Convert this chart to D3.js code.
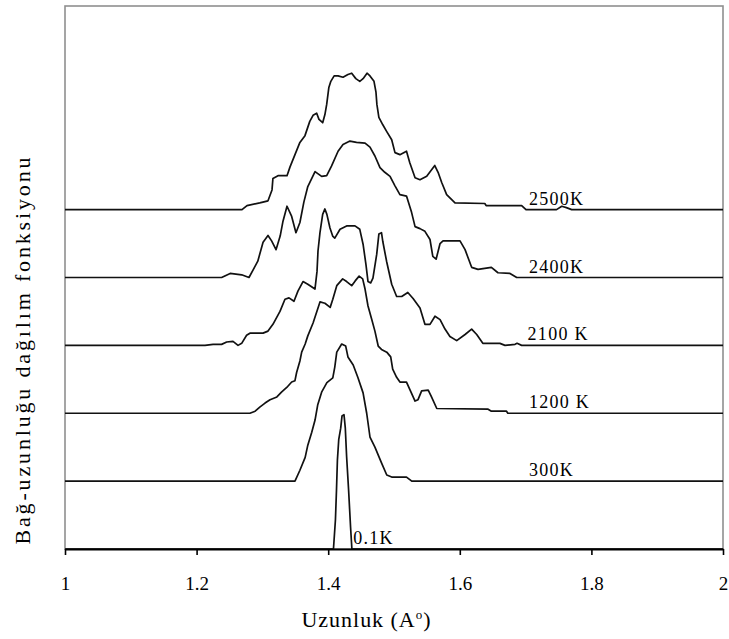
<!DOCTYPE html>
<html>
<head>
<meta charset="utf-8">
<script src="https://cdn.jsdelivr.net/npm/d3@7/dist/d3.min.js"></script>
<style>
  html, body { margin: 0; padding: 0; background: #fff; }
  svg { display: block; }
</style>
</head>
<body>
<svg id="chart" width="729" height="639"></svg>
<script>
// ---------------- DATA ----------------
const xTicks = [1, 1.2, 1.4, 1.6, 1.8, 2];
const seriesNames = ["0.1K", "300K", "1200 K", "2100 K", "2400K", "2500K"];
const offsets = [0, 1, 2, 3, 4, 5];
const labelX = [1.438, 1.705, 1.705, 1.703, 1.705, 1.705];

const s01K = [[1,0],[1.408,0],[1.411,0.43],[1.4126,0.87],[1.414,1.31],[1.416,1.61],[1.419,1.78],
  [1.421,1.96],[1.424,1.98],[1.426,1.78],[1.428,1.36],[1.431,0.87],[1.434,0.32],[1.436,0],[2,0]];

const s300K = [[1,0],[1.3495,0],[1.357,0.16],[1.365,0.35],[1.369,0.53],[1.375,0.72],[1.380,0.90],
  [1.384,1.12],[1.390,1.31],[1.398,1.45],[1.407,1.52],[1.410,1.68],[1.413,1.90],[1.4205,2.02],
  [1.4266,1.99],[1.430,1.83],[1.438,1.71],[1.445,1.53],[1.453,1.30],[1.4585,1.00],[1.4635,0.65],
  [1.471,0.50],[1.481,0.27],[1.489,0.09],[1.4965,0.06],[1.519,0.06],[1.527,0],[2,0]];

const s1200K = [[1,0],[1.281,0],[1.289,0.03],[1.296,0.09],[1.304,0.15],[1.3116,0.20],[1.322,0.24],
  [1.329,0.31],[1.337,0.38],[1.3445,0.46],[1.3495,0.48],[1.352,0.60],[1.357,0.77],[1.3597,0.90],
  [1.365,1.02],[1.369,1.14],[1.377,1.33],[1.3875,1.64],[1.395,1.62],[1.403,1.56],[1.407,1.68],
  [1.413,1.88],[1.422,1.98],[1.428,1.94],[1.4357,1.88],[1.441,1.95],[1.447,2.02],[1.4524,1.98],
  [1.456,1.83],[1.4605,1.58],[1.466,1.39],[1.471,1.21],[1.476,0.99],[1.481,0.94],[1.489,0.90],
  [1.495,0.83],[1.498,0.65],[1.504,0.53],[1.509,0.46],[1.519,0.46],[1.525,0.33],[1.532,0.18],
  [1.5365,0.20],[1.542,0.33],[1.552,0.34],[1.557,0.24],[1.565,0.07],[1.643,0.06],[1.648,0.03],
  [1.671,0.03],[1.673,0],[2,0]];

const s2100K = [[1,0],[1.2128,0],[1.225,0.015],[1.238,0.015],[1.2457,0.05],[1.2553,0.06],[1.263,0],
  [1.2685,0.03],[1.276,0.15],[1.281,0.18],[1.301,0.18],[1.3085,0.21],[1.316,0.31],[1.3267,0.50],
  [1.3343,0.68],[1.3404,0.70],[1.348,0.65],[1.354,0.80],[1.3617,0.94],[1.369,0.90],[1.3799,0.83],
  [1.383,1.09],[1.3845,1.39],[1.3875,1.66],[1.3916,1.93],[1.395,2.01],[1.398,1.93],[1.4027,1.73],
  [1.4068,1.61],[1.410,1.58],[1.418,1.71],[1.428,1.76],[1.4407,1.76],[1.448,1.71],[1.453,1.49],
  [1.4574,1.19],[1.4605,0.94],[1.4646,0.92],[1.468,0.99],[1.4737,1.34],[1.477,1.64],[1.481,1.66],
  [1.483,1.53],[1.4887,1.24],[1.4965,0.90],[1.504,0.72],[1.5117,0.72],[1.521,0.78],[1.529,0.69],
  [1.5395,0.55],[1.547,0.31],[1.5547,0.31],[1.5623,0.43],[1.570,0.38],[1.5775,0.24],[1.585,0.13],
  [1.5953,0.07],[1.608,0.16],[1.618,0.24],[1.6257,0.16],[1.635,0.03],[1.661,0.03],[1.6687,0],
  [1.684,0.015],[1.687,0.03],[1.694,0],[2,0]];

const s2400K = [[1,0],[1.238,0],[1.251,0.06],[1.2685,0.04],[1.2796,0],[1.2857,0.11],[1.293,0.24],
  [1.301,0.52],[1.3085,0.62],[1.314,0.54],[1.3207,0.41],[1.327,0.61],[1.3313,0.83],[1.3374,1.05],
  [1.3445,0.90],[1.351,0.66],[1.357,0.81],[1.363,1.11],[1.369,1.34],[1.380,1.56],[1.390,1.49],
  [1.3977,1.50],[1.405,1.64],[1.415,1.86],[1.4225,1.96],[1.433,2.01],[1.443,1.99],[1.456,1.98],
  [1.4635,1.92],[1.471,1.79],[1.4787,1.62],[1.486,1.55],[1.494,1.49],[1.5015,1.35],[1.509,1.22],
  [1.519,1.20],[1.5267,0.96],[1.532,0.75],[1.5395,0.72],[1.547,0.68],[1.5547,0.56],[1.559,0.31],
  [1.564,0.27],[1.570,0.50],[1.5745,0.54],[1.6003,0.54],[1.608,0.41],[1.618,0.15],[1.6277,0.12],
  [1.648,0.15],[1.658,0.07],[1.6763,0.06],[1.6865,0],[2,0]];

const s2500K = [[1,0],[1.269,0],[1.2766,0.06],[1.296,0.10],[1.3085,0.13],[1.3146,0.29],[1.316,0.46],
  [1.3237,0.50],[1.3374,0.50],[1.342,0.63],[1.3495,0.81],[1.357,0.99],[1.3647,1.09],[1.372,1.30],
  [1.377,1.39],[1.3825,1.42],[1.386,1.33],[1.3916,1.28],[1.395,1.40],[1.3977,1.55],[1.401,1.80],
  [1.404,1.89],[1.409,1.97],[1.415,1.97],[1.4225,1.95],[1.430,1.99],[1.4357,2.01],[1.442,1.93],
  [1.448,1.89],[1.453,1.93],[1.459,2.01],[1.4635,1.97],[1.4696,1.89],[1.4726,1.73],[1.474,1.55],
  [1.477,1.36],[1.483,1.25],[1.489,1.15],[1.4965,1.03],[1.5015,0.84],[1.509,0.81],[1.519,0.86],
  [1.524,0.69],[1.532,0.47],[1.5395,0.44],[1.5497,0.49],[1.562,0.65],[1.567,0.55],[1.5725,0.40],
  [1.580,0.22],[1.5927,0.10],[1.638,0.09],[1.640,0.06],[1.694,0.06],[1.7006,0],[1.747,0],
  [1.755,0.05],[1.762,0.03],[1.770,0],[2,0]];

const seriesData = [s01K, s300K, s1200K, s2100K, s2400K, s2500K];

// ---------------- CHART ----------------
const svg = d3.select("#chart");
const plotL = 65, plotR = 723, plotT = 6, plotB = 549;

const x = d3.scaleLinear().domain([1, 2]).range([plotL, plotR]);
const y = d3.scaleLinear().domain([0, 8]).range([plotB, plotT]);

const serif = "'Liberation Serif', 'Times New Roman', serif";

// frame
svg.append("rect")
  .attr("x", plotL).attr("y", plotT)
  .attr("width", plotR - plotL).attr("height", plotB - plotT)
  .attr("fill", "none").attr("stroke", "#8f8f8f").attr("stroke-width", 1.6);

// curves
const line = d3.line().x(d => x(d[0])).y(d => y(d[1]));
seriesData.forEach((s, i) => {
  const off = offsets[i];
  svg.append("path")
    .datum(s.map(p => [p[0], p[1] + off]))
    .attr("d", line)
    .attr("fill", "none")
    .attr("stroke", "#111")
    .attr("stroke-width", 1.7)
    .attr("stroke-linejoin", "round");
});

// x axis
const xAxis = d3.axisBottom(x)
  .tickValues(xTicks)
  .tickSize(6)
  .tickSizeOuter(0)
  .tickPadding(22)
  .tickFormat(d3.format("~g"));
const gx = svg.append("g").attr("transform", `translate(0,${plotB})`).call(xAxis);
gx.select(".domain").attr("stroke", "#000").attr("stroke-width", 1.8);
gx.selectAll(".tick line").attr("stroke", "#000").attr("stroke-width", 1.6);
gx.selectAll(".tick text")
  .attr("font-family", serif).attr("font-size", 19).attr("fill", "#000");

// series labels
seriesNames.forEach((name, i) => {
  svg.append("text")
    .attr("x", x(labelX[i]))
    .attr("y", y(offsets[i]) - 5)
    .attr("font-family", serif)
    .attr("font-size", 18)
    .attr("letter-spacing", 1.3)
    .attr("fill", "#000")
    .text(name);
});

// x title
const xt = svg.append("text")
  .attr("x", 366).attr("y", 627)
  .attr("text-anchor", "middle")
  .attr("font-family", serif).attr("font-size", 22).attr("fill", "#000")
  .attr("textLength", 129).attr("lengthAdjust", "spacing");
xt.append("tspan").text("Uzunluk (A");
xt.append("tspan").attr("font-size", 13).attr("dy", -8).text("o");
xt.append("tspan").attr("dy", 8).text(")");

// y title
svg.append("text")
  .attr("transform", "translate(30,351) rotate(-90)")
  .attr("text-anchor", "middle")
  .attr("font-family", serif).attr("font-size", 22).attr("fill", "#000")
  .attr("textLength", 387).attr("lengthAdjust", "spacing")
  .text("Bağ-uzunluğu dağılım fonksiyonu");
</script>
</body>
</html>
